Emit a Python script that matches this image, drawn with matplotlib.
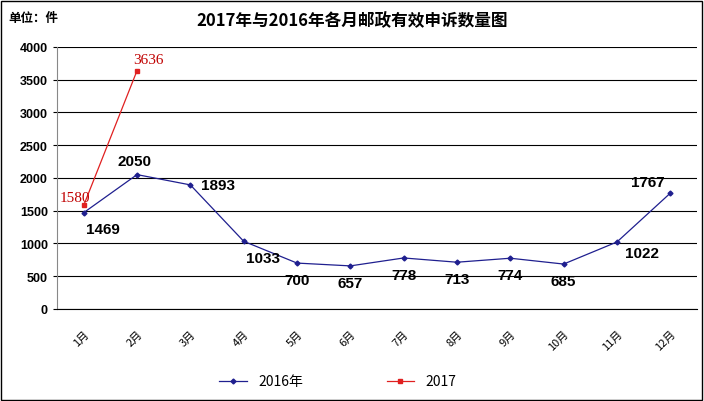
import matplotlib
matplotlib.use("Agg")
import matplotlib.pyplot as plt
from matplotlib.patches import Rectangle

plt.rcParams['font.family'] = ['Noto Sans CJK SC', 'DejaVu Sans']

months = ["1月", "2月", "3月", "4月", "5月", "6月", "7月", "8月", "9月", "10月", "11月", "12月"]
v2016 = [1469, 2050, 1893, 1033, 700, 657, 778, 713, 774, 685, 1022, 1767]
v2017 = [1580, 3636]
yticks = [0, 500, 1000, 1500, 2000, 2500, 3000, 3500, 4000]

# label offsets in points (dx, dy)
off2016 = [(14, -12), (-2, 10), (20, 0), (14, -12), (0, -12), (0, -12),
           (0, -12), (0, -12), (0, -12), (0, -12), (18, -8), (-16, 8)]
off2017 = [(-6, 6), (8, 8)]

fig = plt.figure(figsize=(7.04, 4.02), dpi=100)
fig.patches.append(Rectangle((0.002, 0.003), 0.995, 0.993, transform=fig.transFigure,
                             fill=False, edgecolor="black", lw=1))
ax = fig.add_axes([0.081, 0.229, 0.909, 0.652])
x = list(range(len(months)))
ax.plot(x, v2016, color="#1f1f8f", lw=0.9, marker="D", ms=2.5, label="2016年")
ax.plot(x[:len(v2017)], v2017, color="#e02020", lw=0.9, marker="s", ms=3.5, label="2017")
for xi, v, (dx, dy) in zip(x, v2016, off2016):
    ax.annotate(str(v), (xi, v), xytext=(dx, dy), textcoords="offset points",
                ha="center", va="center", fontsize=11, fontweight="bold",
                family="Liberation Sans")
for xi, v, (dx, dy) in zip(x, v2017, off2017):
    ax.annotate(str(v), (xi, v), xytext=(dx, dy), textcoords="offset points",
                ha="center", va="center", fontsize=11, color="#c00000",
                family="Liberation Serif")
ax.set_xlim(-0.5, 11.5)
ax.set_ylim(0, 4000)
ax.set_yticks(yticks)
ax.set_yticklabels([str(t) for t in yticks], fontsize=9, fontweight="bold", family="Liberation Sans")
ax.set_xticks(x)
ax.set_xticklabels(months, rotation=45, ha="right", va="top", rotation_mode="anchor", fontsize=8)
ax.tick_params(axis="x", length=0, pad=14)
ax.tick_params(axis="y", length=3)
ax.grid(axis="y", color="black", lw=0.8)
for s in ["top", "right"]:
    ax.spines[s].set_visible(False)
ax.spines["left"].set_color("#888888")
ax.spines["bottom"].set_color("black")
fig.text(0.5, 0.935, "2017年与2016年各月邮政有效申诉数量图", ha="center", fontsize=12, fontweight="bold")
fig.text(0.012, 0.945, "单位：件", fontsize=9, fontweight="bold")
fig.legend(loc="lower center", bbox_to_anchor=(0.48, 0.0), ncol=2, frameon=False,
           fontsize=10, columnspacing=6)
fig.savefig("out.png", dpi=100)
